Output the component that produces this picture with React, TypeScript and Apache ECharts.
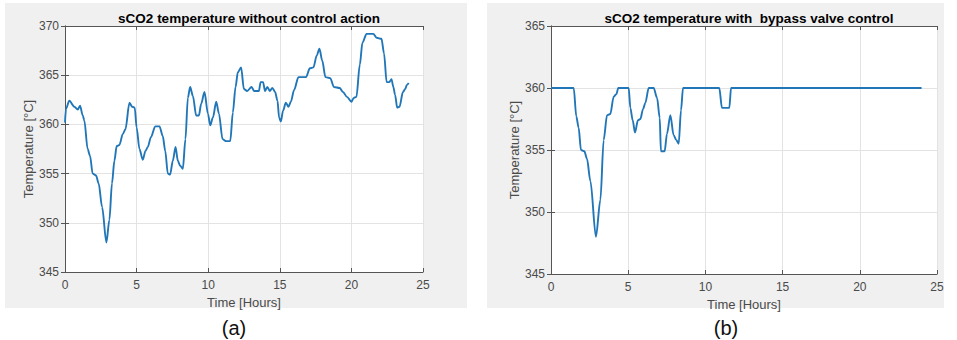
import React, { useEffect, useRef } from "react";
import * as echarts from "echarts";

// Panel (a): sCO2 temperature without control action
const timeA = [
  0, 0.07, 0.3, 0.65, 0.89, 1.05, 1.24, 1.35, 1.58, 1.75, 1.93, 2.17, 2.35, 2.59, 2.89, 3.1,
  3.28, 3.45, 3.61, 3.8, 4.03, 4.22, 4.5, 4.69, 4.87, 5.0, 5.2, 5.43, 5.62, 5.78, 6.0, 6.3,
  6.6, 6.83, 7.0, 7.18, 7.34, 7.53, 7.72, 7.88, 8.04, 8.23, 8.41, 8.58, 8.74, 8.93, 9.16,
  9.35, 9.51, 9.74, 9.98, 10.14, 10.33, 10.56, 10.75, 11.0, 11.26, 11.54, 11.72, 11.91,
  12.07, 12.3, 12.49, 12.72, 13.03, 13.2, 13.54, 13.66, 13.83, 13.97, 14.13, 14.3, 14.48,
  14.67, 14.84, 14.95, 15.07, 15.23, 15.42, 15.61, 15.77, 16.0, 16.3, 16.83, 17.1, 17.35,
  17.58, 17.77, 17.96, 18.19, 18.52, 18.78, 19.18, 19.41, 19.69, 20.0, 20.16, 20.35, 20.59,
  20.77, 21.06, 21.53, 21.76, 22.1, 22.28, 22.46, 22.65, 22.8, 22.93, 23.05, 23.2, 23.36,
  23.6, 23.76, 23.87, 24.0,
];
const tempA = [
  360.2, 361.6, 362.4, 361.8, 361.5, 361.9, 360.9, 360.4, 357.5, 356.8, 355.0, 354.8, 354.0,
  351.6, 348.0, 350.3, 354.0, 356.3, 357.8, 357.9, 359.0, 359.5, 362.2, 361.8, 361.7, 359.7,
  357.5, 356.4, 357.3, 357.7, 358.7, 359.8, 359.8, 358.8, 357.3, 355.0, 354.9, 356.3, 357.7,
  356.3, 355.8, 355.5, 358.5, 362.7, 363.8, 362.9, 360.9, 360.9, 362.1, 363.3, 361.1, 359.9,
  360.7, 362.3, 361.1, 358.5, 358.3, 358.3, 361.2, 363.8, 365.3, 365.8, 363.6, 363.4, 363.8,
  363.4, 363.4, 364.3, 364.3, 363.4, 363.8, 363.4, 363.7, 363.3, 362.4, 360.7, 360.3, 361.4,
  362.2, 361.8, 362.3, 363.5, 364.8, 364.8, 365.7, 365.8, 367.0, 367.7, 366.5, 364.8, 364.7,
  363.8, 363.7, 363.3, 362.8, 362.3, 362.7, 362.8, 366.1, 368.3, 369.2, 369.2, 368.8, 368.7,
  367.2, 364.3, 364.3, 364.6, 363.8, 363.0, 361.7, 361.8, 363.3, 363.6, 364.0, 364.2,
];

// Panel (b): sCO2 temperature with bypass valve control
const timeB = [
  0, 1.47, 1.64, 1.79, 1.94, 2.16, 2.33, 2.55, 2.91, 3.2, 3.41, 3.63, 3.84, 4.06, 4.23, 4.36,
  5.03, 5.14, 5.29, 5.44, 5.63, 5.79, 5.96, 6.11, 6.33, 6.65, 6.87, 7.04, 7.12, 7.36, 7.51,
  7.73, 7.94, 8.12, 8.27, 8.42, 8.55, 10.9, 11.07, 11.55, 11.66, 24.0,
];
const tempB = [
  360, 360, 357.7, 356.8, 355.0, 354.9, 354.3, 352.5, 348.0, 351.0, 355.8, 357.8, 357.9,
  359.3, 359.5, 360, 360, 358.4, 357.4, 356.4, 357.4, 357.5, 358.3, 358.8, 360, 360, 359.2,
  357.6, 354.9, 354.9, 356.3, 357.8, 356.2, 355.8, 355.5, 358.2, 360, 360, 358.4, 358.4, 360,
  360,
];

const titleA = "sCO2 temperature without control action";
const titleB = "sCO2 temperature with  bypass valve control";
const xName = "Time [Hours]";
const yName = "Temperature [°C]";

const FONT = "'Liberation Sans', Arial, Helvetica, sans-serif";
const AXIS = "#555555";
const LABEL = "#4a4a4a";
const GRIDC = "#e3e3e3";
const LINE = "#2176b8";

export default function App() {
  const ref = useRef<HTMLDivElement>(null);

  useEffect(() => {
    if (!ref.current) return;
    const chart = echarts.init(ref.current, undefined, { renderer: "svg" });

    const grids = [
      { left: 65, top: 26, width: 358, height: 246 },
      { left: 551, top: 26, width: 386, height: 248 },
    ];
    const yRanges = [
      [345, 370],
      [345, 365],
    ];

    const xAxes: any[] = [];
    const yAxes: any[] = [];
    grids.forEach((_, i) => {
      xAxes.push({
        type: "value",
        gridIndex: i,
        min: 0,
        max: 25,
        interval: 5,
        name: xName,
        nameLocation: "middle",
        nameGap: 23,
        nameTextStyle: { color: LABEL, fontSize: 13, fontFamily: FONT },
        axisLine: { show: true, lineStyle: { color: AXIS, width: 1 } },
        axisTick: { show: true, inside: true, length: 4, lineStyle: { color: AXIS } },
        axisLabel: { color: LABEL, fontSize: 12, fontFamily: FONT, margin: 7 },
        splitLine: { show: true, lineStyle: { color: GRIDC, width: 1 } },
      });
      xAxes.push({
        type: "value",
        gridIndex: i,
        position: "top",
        min: 0,
        max: 25,
        interval: 5,
        axisLine: { show: true, lineStyle: { color: AXIS, width: 1 } },
        axisTick: { show: true, inside: true, length: 4, lineStyle: { color: AXIS } },
        axisLabel: { show: false },
        splitLine: { show: false },
      });
      yAxes.push({
        type: "value",
        gridIndex: i,
        min: yRanges[i][0],
        max: yRanges[i][1],
        interval: 5,
        name: yName,
        nameLocation: "middle",
        nameRotate: 90,
        nameGap: 29,
        nameTextStyle: { color: LABEL, fontSize: 13, fontFamily: FONT },
        axisLine: { show: true, lineStyle: { color: AXIS, width: 1 } },
        axisTick: { show: true, inside: true, length: 4, lineStyle: { color: AXIS } },
        axisLabel: { color: LABEL, fontSize: 12, fontFamily: FONT, margin: 6 },
        splitLine: { show: true, lineStyle: { color: GRIDC, width: 1 } },
      });
      yAxes.push({
        type: "value",
        gridIndex: i,
        position: "right",
        min: yRanges[i][0],
        max: yRanges[i][1],
        interval: 5,
        axisLine: { show: true, lineStyle: { color: AXIS, width: 1 } },
        axisTick: { show: true, inside: true, length: 4, lineStyle: { color: AXIS } },
        axisLabel: { show: false },
        splitLine: { show: false },
      });
    });

    chart.setOption({
      animation: false,
      backgroundColor: "#ffffff",
      graphic: [
        { type: "rect", z: -100, shape: { x: 5, y: 3, width: 462, height: 305 }, style: { fill: "#f0f0f0" } },
        { type: "rect", z: -100, shape: { x: 487, y: 3, width: 457, height: 305 }, style: { fill: "#f0f0f0" } },
        {
          type: "text",
          x: 234,
          y: 328,
          style: { text: "(a)", fill: "#111", font: `20px ${FONT}`, textAlign: "center", textVerticalAlign: "middle", align: "center", verticalAlign: "middle" },
        },
        {
          type: "text",
          x: 726,
          y: 328,
          style: { text: "(b)", fill: "#111", font: `20px ${FONT}`, textAlign: "center", textVerticalAlign: "middle", align: "center", verticalAlign: "middle" },
        },
      ],
      title: [
        {
          text: titleA,
          left: 244,
          top: 6,
          textAlign: "center",
          textStyle: { fontSize: 13.5, fontWeight: "bold", color: "#000", fontFamily: FONT },
        },
        {
          text: titleB,
          left: 744,
          top: 6,
          textAlign: "center",
          textStyle: { fontSize: 13.5, fontWeight: "bold", color: "#000", fontFamily: FONT },
        },
      ],
      grid: grids.map((g) => ({ ...g, show: true, backgroundColor: "#ffffff", borderColor: AXIS, borderWidth: 0 })),
      xAxis: xAxes,
      yAxis: yAxes,
      series: [
        {
          type: "line",
          xAxisIndex: 0,
          yAxisIndex: 0,
          data: timeA.map((t, k) => [t, tempA[k]]),
          showSymbol: false,
          smooth: 0.3,
          smoothMonotone: "x",
          lineStyle: { color: LINE, width: 1.9 },
        },
        {
          type: "line",
          xAxisIndex: 2,
          yAxisIndex: 2,
          data: timeB.map((t, k) => [t, tempB[k]]),
          showSymbol: false,
          smooth: 0.3,
          smoothMonotone: "x",
          lineStyle: { color: LINE, width: 1.9 },
        },
      ],
    });

    return () => chart.dispose();
  }, []);

  return (
    <div
      ref={ref}
      style={{ position: "fixed", left: 0, top: 0, width: 957, height: 340 }}
    />
  );
}
